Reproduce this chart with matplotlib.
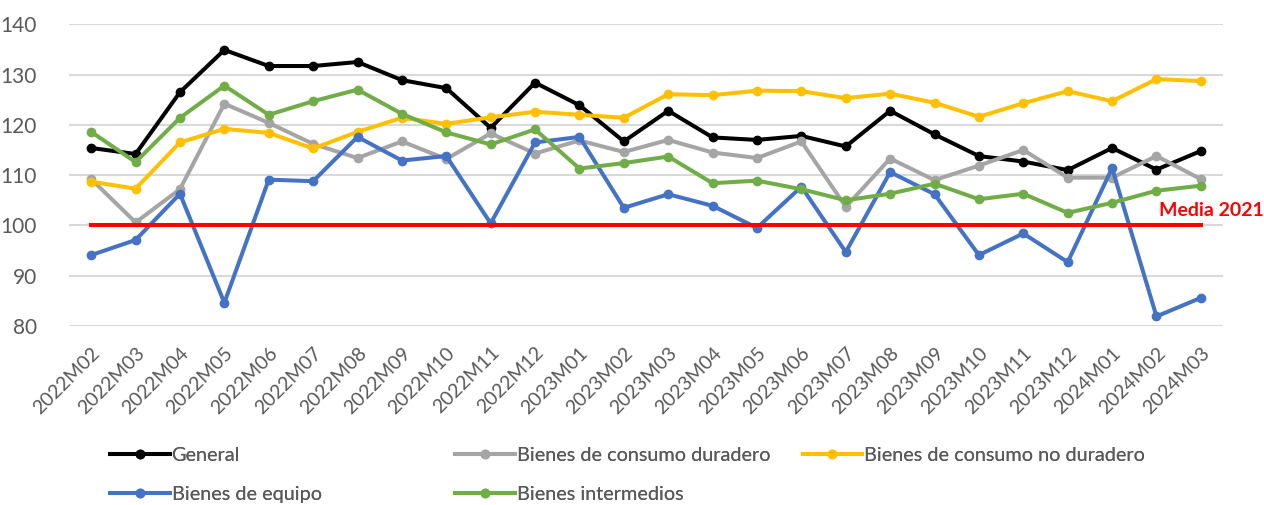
import matplotlib
matplotlib.use('Agg')
import matplotlib.pyplot as plt

plt.rcParams['font.family'] = ['Lato', 'DejaVu Sans']

categorias = ['2022M02', '2022M03', '2022M04', '2022M05', '2022M06', '2022M07', '2022M08',
              '2022M09', '2022M10', '2022M11', '2022M12', '2023M01', '2023M02', '2023M03',
              '2023M04', '2023M05', '2023M06', '2023M07', '2023M08', '2023M09', '2023M10',
              '2023M11', '2023M12', '2024M01', '2024M02', '2024M03']

general = [115.4, 114.2, 126.5, 134.9, 131.7, 131.7, 132.5, 128.9, 127.3, 119.4, 128.4, 123.9, 116.7,
           122.8, 117.5, 117.0, 117.8, 115.7, 122.8, 118.1, 113.8, 112.7, 111.0, 115.4, 111.1, 114.8]
duradero = [109.2, 100.6, 107.2, 124.2, 120.4, 116.2, 113.4, 116.7, 113.2, 118.3, 114.3, 116.9, 114.6,
            117.0, 114.5, 113.4, 116.7, 103.7, 113.3, 109.0, 111.9, 115.0, 109.5, 109.5, 113.8, 109.2]
no_duradero = [108.7, 107.3, 116.5, 119.2, 118.4, 115.3, 118.6, 121.4, 120.2, 121.5, 122.6, 122.0, 121.4,
               126.1, 125.9, 126.8, 126.7, 125.3, 126.2, 124.4, 121.6, 124.3, 126.7, 124.7, 129.1, 128.7]
equipo = [94.1, 97.1, 106.3, 84.6, 109.1, 108.8, 117.6, 112.9, 113.8, 100.4, 116.5, 117.6, 103.5,
          106.2, 103.9, 99.5, 107.7, 94.7, 110.6, 106.2, 94.1, 98.4, 92.7, 111.4, 81.9, 85.6]
intermedios = [118.6, 112.6, 121.4, 127.8, 122.0, 124.7, 127.0, 122.2, 118.5, 116.1, 119.1, 111.3, 112.4,
               113.7, 108.4, 108.9, 107.2, 105.0, 106.3, 108.3, 105.2, 106.3, 102.5, 104.5, 106.9, 107.9]
media_2021 = 100

series = [
    ('General', general, '#000000'),
    ('Bienes de consumo duradero', duradero, '#A5A5A5'),
    ('Bienes de consumo no duradero', no_duradero, '#FFC000'),
    ('Bienes de equipo', equipo, '#4472C4'),
    ('Bienes intermedios', intermedios, '#70AD47'),
]

fig = plt.figure(figsize=(12.64, 5.05), dpi=100)
ax = fig.add_axes([0.0546, 0.3545, 0.913, 0.5974])

x = list(range(len(categorias)))
lineas = []
for nombre, valores, color in series:
    ln, = ax.plot(x, valores, color=color, lw=2.9, marker='o', ms=6, label=nombre)
    lineas.append(ln)

ax.plot(x, [media_2021] * len(x), color='#FF0000', lw=2.9)
ax.text(x[-1] + 0.23, media_2021 + 3.0, 'Media 2021', color='#FF0000', fontsize=14,
        fontweight='bold', ha='center', va='center', clip_on=False)

ax.set_xlim(-0.5, len(categorias) - 0.5)
ax.set_ylim(80, 140)
ax.set_yticks(range(80, 141, 10))
ax.set_xticks(x)
ax.set_xticklabels(categorias, rotation=45, ha='right', rotation_mode='anchor')
ax.tick_params(axis='y', length=0, pad=23, labelsize=15, labelcolor='#595959')
ax.tick_params(axis='x', length=0, pad=13, labelsize=14, labelcolor='#595959')
ax.grid(axis='y', color='#D9D9D9', lw=1.5)
ax.set_axisbelow(True)
for s in ax.spines.values():
    s.set_visible(False)

# leyenda en tres columnas con separacion propia
posiciones = [(0.087, 0.099), (0.36, 0.099), (0.635, 0.099), (0.087, 0.02), (0.36, 0.02)]
for ln, (px, py) in zip(lineas, posiciones):
    leg = fig.legend(handles=[ln], loc='center left', bbox_to_anchor=(px, py), frameon=False,
                     fontsize=14.3, handlelength=3.0, handletextpad=0.1, borderaxespad=0, borderpad=0)
    for t in leg.get_texts():
        t.set_color('#595959')
    fig.add_artist(leg)

fig.savefig('out.png', dpi=100)
